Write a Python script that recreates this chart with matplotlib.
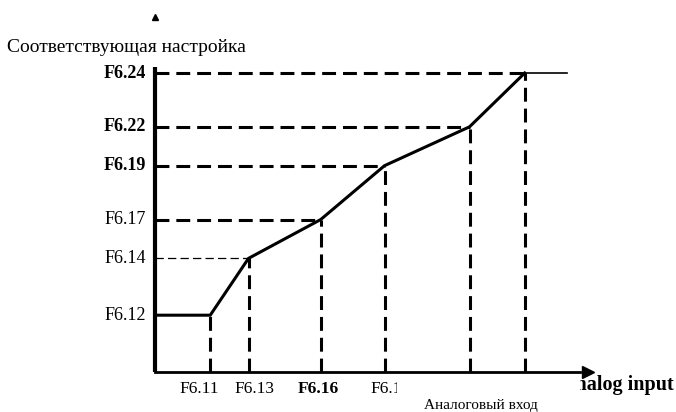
import matplotlib
matplotlib.use("Agg")
import matplotlib.pyplot as plt
from matplotlib.transforms import Bbox

# ─── Characteristic: analog input -> corresponding setting ─────────
# break points of the piecewise-linear curve (percent of full scale)
x_break = [13, 22, 39, 54, 74, 87]
y_break = [19, 38, 51, 69, 82, 100]
x_end = 97                     # flat tail after the last break point

x_labels = ["F6.11", "F6.13", "F6.16", "F6.18"]
y_labels = ["F6.12", "F6.14", "F6.17", "F6.19", "F6.22", "F6.24"]

plt.rcParams["lines.scale_dashes"] = False
SERIF = ["Liberation Serif", "DejaVu Serif"]

fig = plt.figure(figsize=(6.76, 4.12), dpi=100)
ax = fig.add_axes([155 / 676, 40 / 412, 425 / 676, 299 / 412])
ax.set_xlim(0, 100)
ax.set_ylim(0, 100)
ax.axis("off")

# axes with arrows
ax.plot([0, 0], [0, 102], color="black", lw=3.0, clip_on=False, solid_capstyle="butt")
ax.plot([0, 100], [0, 0], color="black", lw=2.0, clip_on=False)
ax.plot([101.9], [0], marker=">", ms=9, color="black", clip_on=False)
ax.plot([0], [118.7], marker="^", ms=5, color="black", clip_on=False)

thick = (0, (10, 5))
thin = (0, (6, 3))

# guide lines from every break point to both axes
for i, (xb, yb) in enumerate(zip(x_break, y_break)):
    ax.plot([xb, xb], [0, yb], color="black", lw=2.2, ls=thick, clip_on=False)
    if i == 0:
        continue
    if i == 1:
        ax.plot([0, xb], [yb, yb], color="black", lw=0.9, ls=thin, clip_on=False)
    else:
        ax.plot([0, xb], [yb, yb], color="black", lw=2.2, ls=thick, clip_on=False)

# the curve itself
ax.plot([0] + x_break, [y_break[0]] + y_break, color="black", lw=2.2,
        solid_joinstyle="miter", clip_on=False)
ax.plot([x_break[-1], x_end], [y_break[-1], y_break[-1]], color="black", lw=1.2,
        clip_on=False)

# tick labels
for i, (yb, lab) in enumerate(zip(y_break, y_labels)):
    ax.text(-2.2, yb, lab, ha="right", va="center", fontsize=13,
            fontweight="bold" if i >= 3 else "normal", family=SERIF)

x_offsets = [-2.5, 1.5, -0.5, 1.5]
for i, (xb, lab) in enumerate(zip(x_break, x_labels)):
    t = ax.text(xb + x_offsets[i], -3.0, lab, ha="center", va="top", fontsize=12.5,
                fontweight="bold" if lab == "F6.16" else "normal", family=SERIF)
    if lab == "F6.18":
        t.set_clip_box(Bbox([[0, 0], [397, 412]]))
        t.set_clip_on(True)

# axis titles
fig.text(7 / 676, 1 - 48 / 412, "Соответствующая настройка", ha="left", va="center",
         fontsize=14, family=SERIF)
fig.text(481 / 676, 1 - 405 / 412, "Аналоговый вход", ha="center", va="center",
         fontsize=11, family=SERIF)
t = fig.text(674 / 676, 1 - 385 / 412, "Analog input", ha="right", va="center",
             fontsize=14.5, fontweight="bold", family=SERIF)
t.set_clip_box(Bbox([[580, 0], [676, 412]]))
t.set_clip_on(True)

fig.savefig("out.png", dpi=100)
